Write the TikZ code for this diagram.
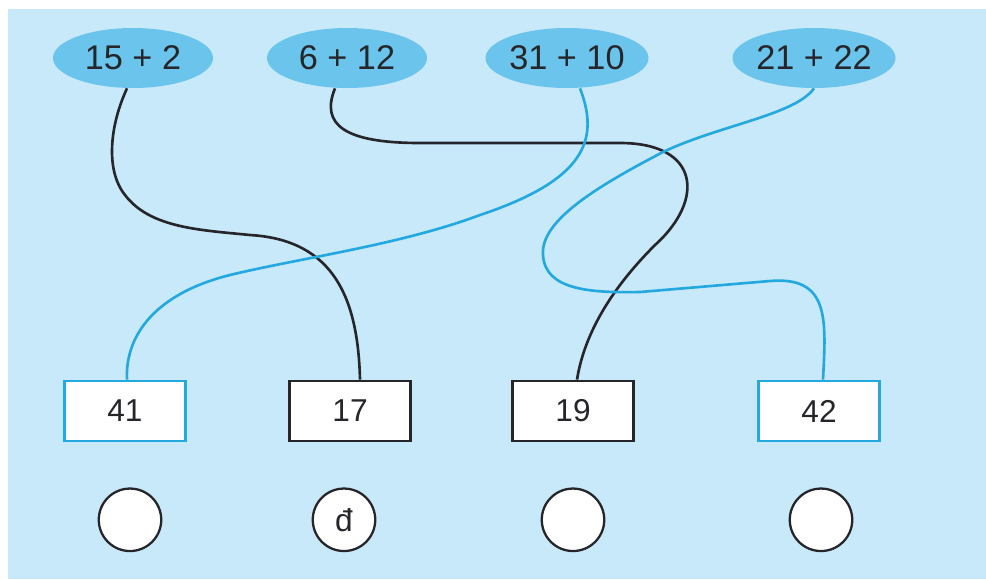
\documentclass[tikz,border=0pt]{standalone}
\usepackage{fontspec}
\setmainfont{Liberation Sans}
\usetikzlibrary{shapes.geometric}
\usetikzlibrary{calc}
\usetikzlibrary{positioning}
\definecolor{bgblue}{RGB}{200,233,250}
\definecolor{sumblue}{RGB}{106,196,236}
\definecolor{wireblue}{RGB}{36,168,224}
\definecolor{inkdark}{RGB}{38,38,42}
\tikzstyle{sumnode} = [ellipse, fill=sumblue, text=inkdark,
    minimum width=3.2cm, minimum height=1.2cm, inner sep=0pt,
    font=\fontsize{19.5}{22}\selectfont]
\tikzstyle{answerbox} = [draw=inkdark, fill=white, rectangle, line width=1.6pt,
    minimum width=2.42cm, minimum height=1.2cm, text=inkdark,
    font=\fontsize{18}{20}\selectfont]
\tikzstyle{checkcircle} = [draw=inkdark, fill=white, circle, line width=1.3pt,
    minimum size=1.25cm, inner sep=0pt, text=inkdark,
    font=\fontsize{18}{20}\selectfont]
\tikzstyle{bluewire} = [draw=wireblue, line width=1.5pt]
\tikzstyle{blackwire} = [draw=inkdark, line width=1.5pt]

\begin{document}
\begin{tikzpicture}[x=0.02cm, y=-0.02cm]
    % Background panel
    \useasboundingbox (0,0) rectangle (986,579);
    \fill [bgblue] (8,9) rectangle (986,579);

    % We start by placing the sums on top
    \node [sumnode] (s15) at (133,58) {15 + 2};
    \node [sumnode] (s6) at (347,58) {6 + 12};
    \node [sumnode] (s31) at (567,58) {31 + 10};
    \node [sumnode] (s21) at (814,58) {21 + 22};

    % Then the answers
    \node [answerbox, draw=wireblue] (a41) at (125,411) {41};
    \node [answerbox] (a17) at (350,411) {17};
    \node [answerbox] (a19) at (573,411) {19};
    \node [answerbox, draw=wireblue] (a42) at (819,411) {42};

    % And the circles below them
    \node [checkcircle, below=0.9cm of a41, xshift=0.1cm] (c41) {};
    \node [checkcircle, below=0.9cm of a17, xshift=-0.12cm] (c17) {đ};
    \node [checkcircle, below=0.9cm of a19] (c19) {};
    \node [checkcircle, below=0.9cm of a42, xshift=0.04cm] (c42) {};

    % Wires from the sums to the answers
    \draw [blackwire] ($(s15.south)+(-6,0)$) .. controls (110,125) and (105,170) .. (125,195)
        .. controls (150,228) and (200,230) .. (250,235)
        .. controls (335,240) and (358,300) .. ($(a17.north)+(10,0)$);
    \draw [blackwire] ($(s6.south)+(-12,0)$) .. controls (320,125) and (345,143) .. (420,143)
        -- (620,143) .. controls (700,143) and (705,200) .. (655,245)
        .. controls (615,285) and (585,330) .. ($(a19.north)+(4,0)$);
    \draw [bluewire] ($(s31.south)+(13,0)$) .. controls (600,140) and (585,180) .. (480,215)
        .. controls (400,245) and (300,258) .. (230,275)
        .. controls (150,295) and (125,340) .. ($(a41.north)+(2,0)$);
    \draw [bluewire] (s21.south) .. controls (795,115) and (720,125) .. (663,152)
        .. controls (600,185) and (540,220) .. (543,255)
        .. controls (545,290) and (590,293) .. (640,292) -- (770,281)
        .. controls (830,276) and (826,320) .. ($(a42.north)+(4,0)$);
\end{tikzpicture}
\end{document}
